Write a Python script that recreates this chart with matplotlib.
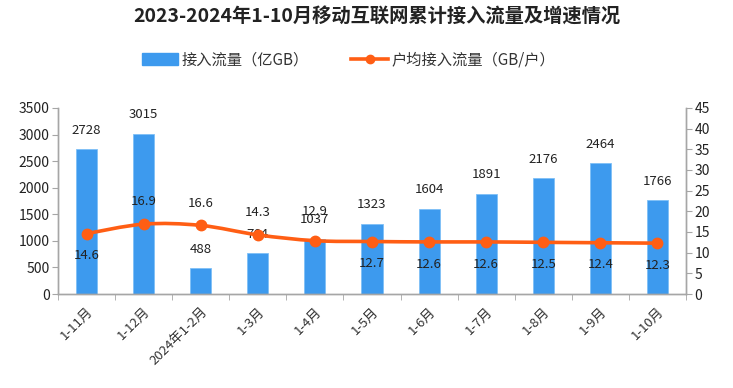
import matplotlib
matplotlib.use("Agg")
import matplotlib.pyplot as plt
from matplotlib.path import Path
from matplotlib.patches import PathPatch, Patch
from matplotlib.lines import Line2D
import numpy as np

plt.rcParams['font.family'] = ['Noto Sans CJK SC', 'DejaVu Sans']

# data
categories = ['1-11月', '1-12月', '2024年1-2月', '1-3月', '1-4月', '1-5月',
              '1-6月', '1-7月', '1-8月', '1-9月', '1-10月']
traffic = [2728, 3015, 488, 764, 1037, 1323, 1604, 1891, 2176, 2464, 1766]
per_user = [14.6, 16.9, 16.6, 14.3, 12.9, 12.7, 12.6, 12.6, 12.5, 12.4, 12.3]
label_below = [True, False, False, False, False, True, True, True, True, True, True]

bar_color = '#3D9AEE'
line_color = '#FF5E14'
axis_color = '#A6A6A6'

fig = plt.figure(figsize=(7.33, 3.88), dpi=100)
ax = fig.add_axes([58 / 733, 1 - 294 / 388, (686 - 58) / 733, (294 - 108) / 388])
ax2 = ax.twinx()

x = np.arange(len(categories))
ax.bar(x, traffic, width=0.37, color=bar_color, edgecolor='#7FC0F7', linewidth=0.6, zorder=2)
ax.set_xlim(-0.5, len(categories) - 0.5)
ax.set_ylim(0, 3500)
ax.set_yticks(np.arange(0, 3501, 500))
ax2.set_ylim(0, 45)
ax2.set_yticks(np.arange(0, 46, 5))

# bar value labels
for xi, v in zip(x, traffic):
    ax.annotate(str(v), (xi, v), xytext=(0, 9), textcoords='offset points',
                ha='center', va='bottom', fontsize=9.5, color='#222222')

# smoothed line (Catmull-Rom -> cubic Bezier through data points)
pts = np.column_stack([x, per_user]).astype(float)
verts = [tuple(pts[0])]
codes = [Path.MOVETO]
n = len(pts)
for i in range(n - 1):
    p0 = pts[max(i - 1, 0)]
    p1 = pts[i]
    p2 = pts[i + 1]
    p3 = pts[min(i + 2, n - 1)]
    c1 = p1 + (p2 - p0) / 6.0
    c2 = p2 - (p3 - p1) / 6.0
    verts += [tuple(c1), tuple(c2), tuple(p2)]
    codes += [Path.CURVE4, Path.CURVE4, Path.CURVE4]
ax2.add_patch(PathPatch(Path(verts, codes), facecolor='none', edgecolor=line_color,
                        linewidth=2.6, zorder=3))
ax2.plot(x, per_user, 'o', color=line_color, markersize=7.5, zorder=4)

for i, (xi, v, below) in enumerate(zip(x, per_user, label_below)):
    off = -16 if below else 16
    if i == 4:
        off = 21  # sits just above the 1037 bar label, as in the source
    ax2.annotate(f'{v}', (xi, v), xytext=(0, off), textcoords='offset points',
                 ha='center', va='center', fontsize=9.5, color='#222222')

# axes styling
for a in (ax, ax2):
    a.spines['top'].set_visible(False)
    for s in ('left', 'right', 'bottom'):
        a.spines[s].set_color(axis_color)
        a.spines[s].set_linewidth(1.0)
ax.tick_params(axis='y', colors=axis_color, labelcolor='#222222', labelsize=10, length=4, pad=2)
ax2.tick_params(axis='y', colors=axis_color, labelcolor='#222222', labelsize=10, length=4, pad=2)

ax.set_xticks(x)
ax.set_xticklabels(categories, rotation=45, ha='right', va='top',
                   rotation_mode='anchor', fontsize=9.5, color='#333333')
ax.tick_params(axis='x', which='major', length=0, pad=8)
ax.set_xticks(np.arange(-0.5, len(categories), 1), minor=True)
ax.tick_params(axis='x', which='minor', length=4, color=axis_color)

# title and legend
fig.text(0.514, 1 - 17 / 388, '2023-2024年1-10月移动互联网累计接入流量及增速情况',
         ha='center', va='center', fontsize=13.9, fontweight='bold', color='#222222')
handles = [Patch(facecolor=bar_color, edgecolor=bar_color),
           Line2D([0], [0], color=line_color, linewidth=2.6, marker='o', markersize=6)]
fig.legend(handles, ['接入流量（亿GB）', '户均接入流量（GB/户）'],
           loc='center', bbox_to_anchor=(0.475, 1 - 60 / 388), ncol=2, frameon=False,
           fontsize=11, handlelength=2.4, handleheight=0.8, columnspacing=2.8,
           handletextpad=0.2, labelcolor='#333333')

fig.savefig('out.png', dpi=100)
